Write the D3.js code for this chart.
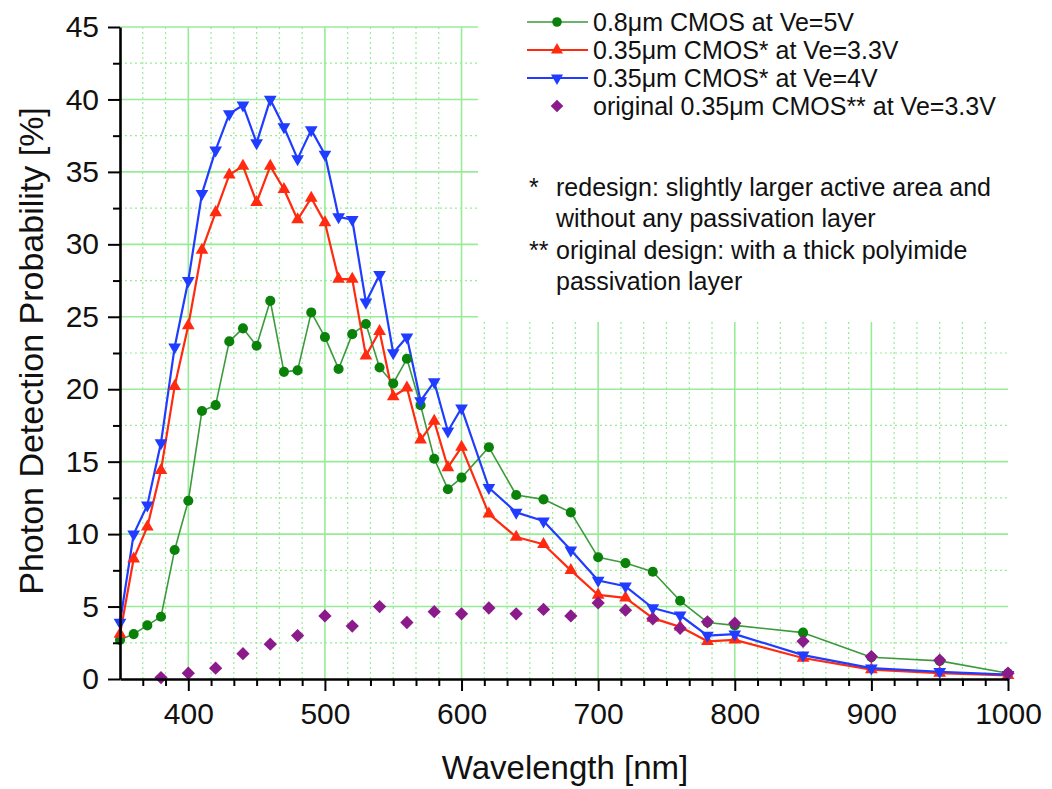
<!DOCTYPE html>
<html><head><meta charset="utf-8">
<script src="https://cdn.jsdelivr.net/npm/d3@7"></script>
<style>body{margin:0;background:#fff} text{font-family:"Liberation Sans",Arial,sans-serif;fill:#111}</style>
</head><body><svg id="c" width="1052" height="789"></svg>
<script>
// ---- data ----
const wlFine = [350,360,370,380,390,400,410,420,430,440,450,460,470,480,490,500,510,520,530,540,550,560,570,580,590,600,620,640,660,680,700,720,740,760,780,800,850,900,950,1000];
const green08 = [2.7,3.1,3.7,4.3,8.9,12.3,18.5,18.9,23.3,24.2,23.0,26.1,21.2,21.3,25.3,23.6,21.4,23.8,24.5,21.5,20.4,22.1,18.9,15.2,13.1,13.9,16.0,12.7,12.4,11.5,8.4,8.0,7.4,5.4,3.9,3.7,3.2,1.5,1.25,0.4];
const red035 = [3.1,8.3,10.5,14.4,20.2,24.4,29.6,32.2,34.8,35.4,32.9,35.4,33.8,31.7,33.2,31.5,27.6,27.6,22.3,24.0,19.5,20.1,16.5,17.8,14.6,16.0,11.4,9.8,9.3,7.5,5.8,5.6,4.2,3.6,2.6,2.7,1.45,0.65,0.4,0.25];
const blue035 = [3.9,10.0,12.0,16.3,22.9,27.5,33.5,36.5,39.0,39.6,37.0,40.0,38.1,35.9,37.9,36.2,31.9,31.7,26.0,27.9,22.5,23.6,19.2,20.5,17.1,18.7,13.2,11.5,10.9,8.9,6.8,6.4,4.9,4.4,3.0,3.1,1.65,0.75,0.5,0.3];
const wlOrig = [380,400,420,440,460,480,500,520,540,560,580,600,620,640,660,680,700,720,740,760,780,800,850,900,950,1000];
const origVals = [0.1,0.4,0.75,1.75,2.4,3.0,4.35,3.65,5.0,3.9,4.65,4.5,4.9,4.5,4.8,4.35,5.25,4.75,4.15,3.5,3.95,3.85,2.6,1.55,1.3,0.4];
const xTicks = [400,500,600,700,800,900,1000];
const yTicks = [0,5,10,15,20,25,30,35,40,45];
const legendLabels = ["0.8\u03BCm CMOS at Ve=5V","0.35\u03BCm CMOS* at Ve=3.3V","0.35\u03BCm CMOS* at Ve=4V","original 0.35\u03BCm CMOS** at Ve=3.3V"];
const noteLines = [["*","redesign: slightly larger active area and"],["","without any passivation layer"],["**","original design: with a thick polyimide"],["","passivation layer"]];

// ---- chart ----
const svg = d3.select("#c");
svg.append("rect").attr("width",1052).attr("height",789).attr("fill","#fff");
const X = d3.scaleLinear().domain([350,1000]).range([120,1008]);
const Y = d3.scaleLinear().domain([0,45]).range([679,27]);
const GRID = "#98ec98";

const minorX = d3.range(1,39).filter(i => (i-3)%6 !== 0).map(i => 350 + i*100/6);
const minorY = d3.range(2.5,45,5);
const g = svg.append("g");
g.selectAll(".vmin").data(minorX).join("line")
  .attr("x1",d=>X(d)).attr("x2",d=>X(d)).attr("y1",Y(0)).attr("y2",Y(45))
  .attr("stroke",GRID).attr("stroke-width",1.2).attr("stroke-dasharray","2,3");
g.selectAll(".hmin").data(minorY).join("line")
  .attr("x1",X(350)).attr("x2",X(1000)).attr("y1",d=>Y(d)).attr("y2",d=>Y(d))
  .attr("stroke",GRID).attr("stroke-width",1.2).attr("stroke-dasharray","2,3");
g.selectAll(".vmaj").data(xTicks.filter(d=>d<1000)).join("line")
  .attr("x1",d=>X(d)).attr("x2",d=>X(d)).attr("y1",Y(0)).attr("y2",Y(45))
  .attr("stroke",GRID).attr("stroke-width",1.6);
g.selectAll(".hmaj").data(yTicks.filter(d=>d>0)).join("line")
  .attr("x1",X(350)).attr("x2",X(1000)).attr("y1",d=>Y(d)).attr("y2",d=>Y(d))
  .attr("stroke",GRID).attr("stroke-width",1.6);

// white area behind legend and notes
svg.append("rect").attr("x",478).attr("y",20).attr("width",540).attr("height",302).attr("fill","#fff");

// ---- series ----
const series = [
  {name:legendLabels[0], x:wlFine, y:green08, line:"#3c9a3c", mark:"#0a820a", sym:"circle", lw:1.6},
  {name:legendLabels[1], x:wlFine, y:red035, line:"#ff2a10", mark:"#ff2a10", sym:"up", lw:2.2},
  {name:legendLabels[2], x:wlFine, y:blue035, line:"#1f3cff", mark:"#1f3cff", sym:"down", lw:2.2},
  {name:legendLabels[3], x:wlOrig, y:origVals, line:null, mark:"#8b1a8b", sym:"diamond", lw:0}
];
function symPath(s, big){
  const k = big ? 1 : 0.9;
  if(s==="circle") return d3.symbol(d3.symbolCircle, 80*k)();
  if(s==="up"||s==="down") return d3.symbol(d3.symbolTriangle, 70*k)();
  return d3.symbol(d3.symbolSquare, 88*k)();
}
function symRot(s){ return s==="down"?180:(s==="diamond"?45:0); }

series.forEach(s=>{
  const pts = s.x.map((v,i)=>[v,s.y[i]]);
  if(s.line){
    svg.append("path").datum(pts)
      .attr("d", d3.line().x(d=>X(d[0])).y(d=>Y(d[1])))
      .attr("fill","none").attr("stroke",s.line).attr("stroke-width",s.lw).attr("stroke-linejoin","round");
  }
});
series.forEach(s=>{
  const pts = s.x.map((v,i)=>[v,s.y[i]]);
  svg.append("g").selectAll("path").data(pts).join("path")
    .attr("d", symPath(s.sym,true))
    .attr("transform", d=>`translate(${X(d[0])},${Y(d[1])}) rotate(${symRot(s.sym)})`)
    .attr("fill", s.mark);
});

// ---- axes ----
const xAxis = svg.append("g").attr("transform",`translate(0,${Y(0)})`)
  .call(d3.axisBottom(X).tickValues(xTicks).tickFormat(d3.format("d")).tickSize(12).tickSizeOuter(0).tickPadding(12));
svg.append("g").attr("transform",`translate(0,${Y(0)})`)
  .call(d3.axisBottom(X).tickValues(minorX).tickSize(7).tickFormat("").tickSizeOuter(0))
  .select(".domain").remove();
const yAxis = svg.append("g").attr("transform",`translate(${X(350)},0)`)
  .call(d3.axisLeft(Y).tickValues(yTicks).tickSize(12).tickSizeOuter(0).tickPadding(9));
svg.append("g").attr("transform",`translate(${X(350)},0)`)
  .call(d3.axisLeft(Y).tickValues(minorY).tickSize(7).tickFormat("").tickSizeOuter(0))
  .select(".domain").remove();
svg.selectAll(".domain").attr("stroke","#000").attr("stroke-width",2.6);
svg.selectAll(".tick line").attr("stroke","#000").attr("stroke-width",2);
xAxis.selectAll("text").attr("font-size",30).attr("fill","#111").attr("font-family","Liberation Sans, Arial, sans-serif");
yAxis.selectAll("text").attr("font-size",30).attr("fill","#111").attr("font-family","Liberation Sans, Arial, sans-serif");

// axis titles
svg.append("text").attr("x",565).attr("y",779).attr("text-anchor","middle")
  .attr("font-size",33).text("Wavelength [nm]");
svg.append("text").attr("transform","translate(43,351) rotate(-90)").attr("text-anchor","middle")
  .attr("font-size",34).text("Photon Detection Probability [%]");

// ---- legend ----
const lg = svg.append("g");
const rowY = [22,50,78,106];
series.forEach((s,i)=>{
  const y = rowY[i];
  if(s.line) lg.append("line").attr("x1",527).attr("x2",588).attr("y1",y).attr("y2",y)
    .attr("stroke",s.line).attr("stroke-width",s.lw);
  lg.append("path").attr("d",symPath(s.sym,false))
    .attr("transform",`translate(557,${y}) rotate(${symRot(s.sym)})`).attr("fill",s.mark);
  lg.append("text").attr("x",593).attr("y",y+8.5).attr("font-size",25).text(s.name);
});
const noteY = [187,218,250,281];
noteLines.forEach((l,i)=>{
  if(l[0]) lg.append("text").attr("x",529).attr("y",noteY[i]+8.5).attr("font-size",25).text(l[0]);
  lg.append("text").attr("x",556).attr("y",noteY[i]+8.5).attr("font-size",25).text(l[1]);
});
</script></body></html>
